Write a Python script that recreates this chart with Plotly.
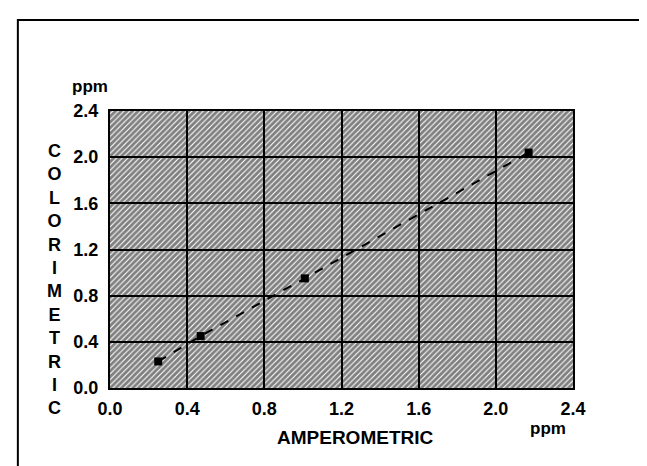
import plotly.graph_objects as go

# Data
amperometric = [0.25, 0.47, 1.01, 2.17]
colorimetric = [0.23, 0.45, 0.95, 2.04]

x_ticks = [0.0, 0.4, 0.8, 1.2, 1.6, 2.0, 2.4]
y_ticks = [0.0, 0.4, 0.8, 1.2, 1.6, 2.0, 2.4]
x_range = [0.0, 2.4]
y_range = [0.0, 2.4]
x_title = "AMPEROMETRIC"
y_title = "COLORIMETRIC"
unit = "ppm"

FONT = "Liberation Sans"

fig = go.Figure()

# hatched plot background (built from the axis ranges)
fig.add_trace(go.Scatter(
    x=[x_range[0], x_range[1], x_range[1], x_range[0], x_range[0]],
    y=[y_range[0], y_range[0], y_range[1], y_range[1], y_range[0]],
    mode="lines", line=dict(width=0, color="rgba(0,0,0,0)"),
    fill="toself", fillcolor="rgba(0,0,0,0)",
    fillpattern=dict(shape="/", fgcolor="black", bgcolor="rgba(0,0,0,0)",
                     size=4, solidity=0.72),
    hoverinfo="skip", showlegend=False,
))

fig.add_trace(go.Scatter(
    x=amperometric, y=colorimetric, mode="lines+markers",
    line=dict(color="black", width=2, dash="dash"),
    marker=dict(symbol="square", size=8, color="black"),
    showlegend=False,
))

axis_common = dict(
    showgrid=True, gridcolor="black", gridwidth=2,
    showline=True, linecolor="black", linewidth=2, mirror=True,
    zeroline=False, ticks="",
    tickfont=dict(family=FONT, size=18, color="black", weight="bold"),
)

fig.update_xaxes(range=x_range, tickvals=x_ticks,
                 ticktext=[f"{v:.1f}" for v in x_ticks],
                 ticklabelstandoff=3, **axis_common)
fig.update_yaxes(range=y_range, tickvals=y_ticks,
                 ticktext=[f"{v:.1f}" for v in y_ticks],
                 ticklabelstandoff=6, **axis_common)

annotations = [
    dict(text="<b>" + x_title + "</b>", xref="paper", yref="paper",
         x=0.53, y=-0.18, xanchor="center", yanchor="middle", showarrow=False,
         font=dict(family=FONT, size=19, color="black")),
    dict(text="<b>" + "<br>".join(list(y_title)) + "</b>", xref="paper", yref="paper",
         x=-0.119, y=0.392, xanchor="center", yanchor="middle", showarrow=False,
         font=dict(family=FONT, size=18, color="black")),
    dict(text="<b>" + unit + "</b>", xref="paper", yref="paper",
         x=-0.043, y=1.09, xanchor="center", yanchor="middle", showarrow=False,
         font=dict(family=FONT, size=17, color="black")),
    dict(text="<b>" + unit + "</b>", xref="paper", yref="paper",
         x=0.945, y=-0.148, xanchor="center", yanchor="middle", showarrow=False,
         font=dict(family=FONT, size=17, color="black")),
]

fig.update_layout(
    width=647, height=466,
    margin=dict(l=102, r=82, t=103, b=86),
    plot_bgcolor="white", paper_bgcolor="white",
    annotations=annotations,
    shapes=[dict(type="rect", xref="paper", yref="paper",
                 x0=-0.199, y0=-0.5, x1=1.4, y1=1.3285,
                 line=dict(color="black", width=2), layer="below")],
)

fig.write_html("out.html")
